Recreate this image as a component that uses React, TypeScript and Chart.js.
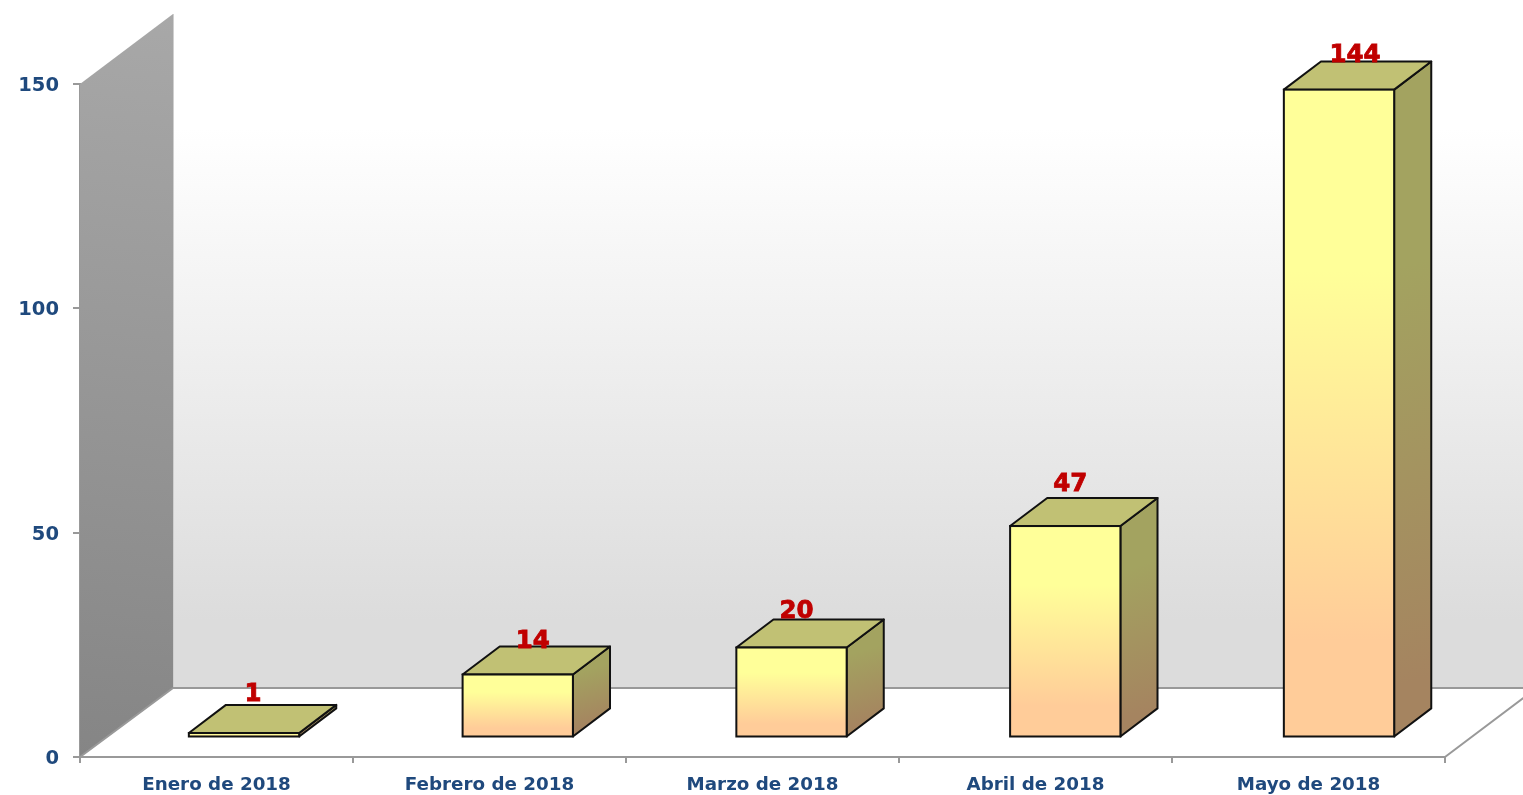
import React, { useEffect, useRef } from "react";
import { Chart, registerables } from "chart.js";

Chart.register(...registerables);

const categories = ["Enero de 2018", "Febrero de 2018", "Marzo de 2018", "Abril de 2018", "Mayo de 2018"];
const values = [1, 14, 20, 47, 144];

const DX = 93, DY = 70;           // full depth of the box
const BAR_DX = 27.5, BAR_DY = 19.5; // where the bars sit inside that depth
const FACE_DX = 37, FACE_DY = 28; // depth of each bar
const K = 1.00275;                // the bars sit slightly nearer than the front plane
const LABEL_NUDGE = [[9, -38.5], [15, -32.5], [5, -35.5], [5, -41], [16, -34.5]];
const INK = "#111111";

function barSpace(ctx: any, chart: any) {
  const first = chart.getDatasetMeta(0).data[0];
  const bottom = chart.chartArea.bottom;
  ctx.translate(first.x + BAR_DX, bottom - BAR_DY);
  ctx.scale(K, K);
  ctx.translate(-first.x, -bottom);
}

const box3d = {
  id: "box3d",
  beforeDatasetsDraw(chart: any) {
    const { ctx, chartArea: a } = chart;
    const { left, right, top, bottom } = a;
    const floorY = bottom - DY + 1;
    ctx.save();
    // back wall
    const wall = ctx.createLinearGradient(0, top - DY, 0, floorY);
    wall.addColorStop(0, "#ffffff");
    wall.addColorStop(0.17, "#ffffff");
    wall.addColorStop(0.9, "#dcdcdc");
    wall.addColorStop(1, "#dcdcdc");
    ctx.fillStyle = wall;
    ctx.fillRect(left + DX, top - DY, right - left, floorY - (top - DY));
    // side wall
    const side = ctx.createLinearGradient(left + DX, top - DY, left, bottom);
    side.addColorStop(0, "#a8a8a8");
    side.addColorStop(1, "#858585");
    ctx.fillStyle = side;
    ctx.beginPath();
    ctx.moveTo(left, top);
    ctx.lineTo(left + DX, top - DY);
    ctx.lineTo(left + DX, floorY);
    ctx.lineTo(left, bottom);
    ctx.closePath();
    ctx.fill();
    // lines
    ctx.strokeStyle = "#cfcfcf";
    ctx.lineWidth = 1;
    ctx.beginPath();
    ctx.moveTo(left + DX + 0.5, top - DY);
    ctx.lineTo(left + DX + 0.5, floorY);
    ctx.stroke();
    ctx.strokeStyle = "#999999";
    ctx.lineWidth = 2;
    ctx.beginPath();
    ctx.moveTo(left + DX, floorY);
    ctx.lineTo(right + DX, floorY);
    ctx.moveTo(left + DX, floorY);
    ctx.lineTo(left, bottom);
    ctx.moveTo(right, bottom);
    ctx.lineTo(right + DX, bottom - DY);
    ctx.stroke();

    // top and side faces of each bar, taken from the bar elements
    const bars = chart.getDatasetMeta(0).data;
    barSpace(ctx, chart);
    bars.forEach((b: any) => {
      const l = b.x - b.width / 2, r = b.x + b.width / 2, t = b.y, base = b.base;
      const span = base - t + FACE_DY;
      const g = ctx.createLinearGradient(r, t - FACE_DY, r + span * 0.3, base);
      g.addColorStop(0, "#a3a360");
      g.addColorStop(0.28, "#a3a360");
      g.addColorStop(0.85, "#a58460");
      g.addColorStop(1, "#a58460");
      ctx.strokeStyle = INK;
      ctx.lineWidth = 2;
      ctx.lineJoin = "round";
      ctx.fillStyle = g;
      ctx.beginPath();
      ctx.moveTo(r, t);
      ctx.lineTo(r + FACE_DX, t - FACE_DY);
      ctx.lineTo(r + FACE_DX, base - FACE_DY);
      ctx.lineTo(r, base);
      ctx.closePath();
      ctx.fill();
      ctx.stroke();
      ctx.fillStyle = "#c1c174";
      ctx.beginPath();
      ctx.moveTo(l, t);
      ctx.lineTo(l + FACE_DX, t - FACE_DY);
      ctx.lineTo(r + FACE_DX, t - FACE_DY);
      ctx.lineTo(r, t);
      ctx.closePath();
      ctx.fill();
      ctx.stroke();
    });
    ctx.restore();
    ctx.save();
    barSpace(ctx, chart);
  },
  afterDatasetsDraw(chart: any) {
    const { ctx } = chart;
    const bars = chart.getDatasetMeta(0).data;
    // outline of the front faces, then leave bar space
    ctx.strokeStyle = INK;
    ctx.lineWidth = 2;
    bars.forEach((b: any) => {
      ctx.strokeRect(b.x - b.width / 2, b.y, b.width, b.base - b.y);
    });
    const pts = bars.map((b: any) => {
      const m = ctx.getTransform();
      return [m.a * b.x + m.e, m.d * b.y + m.f];
    });
    ctx.restore();
    ctx.save();
    ctx.fillStyle = "#c00000";
    ctx.strokeStyle = "#c00000";
    ctx.lineWidth = 0.8;
    ctx.font = "bold 24.5px 'DejaVu Sans'";
    ctx.textAlign = "center";
    ctx.textBaseline = "middle";
    pts.forEach(([x, y]: number[], i: number) => {
      const [nx, ny] = LABEL_NUDGE[i];
      ctx.fillText(String(values[i]), x + nx, y + ny);
      ctx.strokeText(String(values[i]), x + nx, y + ny);
    });
    ctx.restore();
  },
};

export default function App() {
  const ref = useRef<HTMLCanvasElement>(null);
  useEffect(() => {
    const chart = new Chart(ref.current!, {
      type: "bar",
      data: {
        labels: categories,
        datasets: [
          {
            data: values,
            barPercentage: 110 / 273,
            categoryPercentage: 1,
            borderWidth: 0,
            backgroundColor: (c: any) => {
              const y = c.chart.scales.y;
              const area = c.chart.chartArea;
              if (!y || !area) return "#ffcc99";
              const top = y.getPixelForValue(values[c.dataIndex]);
              const g = c.chart.ctx.createLinearGradient(0, top, 0, y.getPixelForValue(0));
              g.addColorStop(0, "#ffff99");
              g.addColorStop(0.28, "#ffff99");
              g.addColorStop(0.85, "#ffcc99");
              g.addColorStop(1, "#ffcc99");
              return g;
            },
          },
        ],
      },
      options: {
        animation: false,
        responsive: false,
        layout: { padding: { top: 84, right: 78, left: 0, bottom: 0 } },
        plugins: { legend: { display: false }, tooltip: { enabled: false } },
        scales: {
          x: {
            afterFit: (s: any) => { s.height = 38; },
            grid: { display: true, drawOnChartArea: false, drawTicks: true, tickLength: 6, color: "#999999", lineWidth: 2, offset: true },
            border: { display: true, color: "#999999", width: 2 },
            ticks: { color: "#1f497d", font: { family: "'DejaVu Sans'", weight: "bold", size: 18.3 }, padding: 11, maxRotation: 0 },
          },
          y: {
            min: 0,
            max: 150,
            afterFit: (s: any) => { s.width = 80; },
            grid: { display: true, drawOnChartArea: false, drawTicks: true, tickLength: 7, color: "#999999", lineWidth: 2 },
            border: { display: true, color: "#999999", width: 2 },
            ticks: { stepSize: 50, color: "#1f497d", font: { family: "'DejaVu Sans'", weight: "bold", size: 19.5 }, padding: 14, labelOffset: 2 },
          },
        },
      },
      plugins: [box3d],
    } as any);
    return () => chart.destroy();
  }, []);
  return (
    <div style={{ position: "fixed", left: 0, top: 0 }}>
      <canvas ref={ref} width={1523} height={795} style={{ display: "block" }} />
    </div>
  );
}
